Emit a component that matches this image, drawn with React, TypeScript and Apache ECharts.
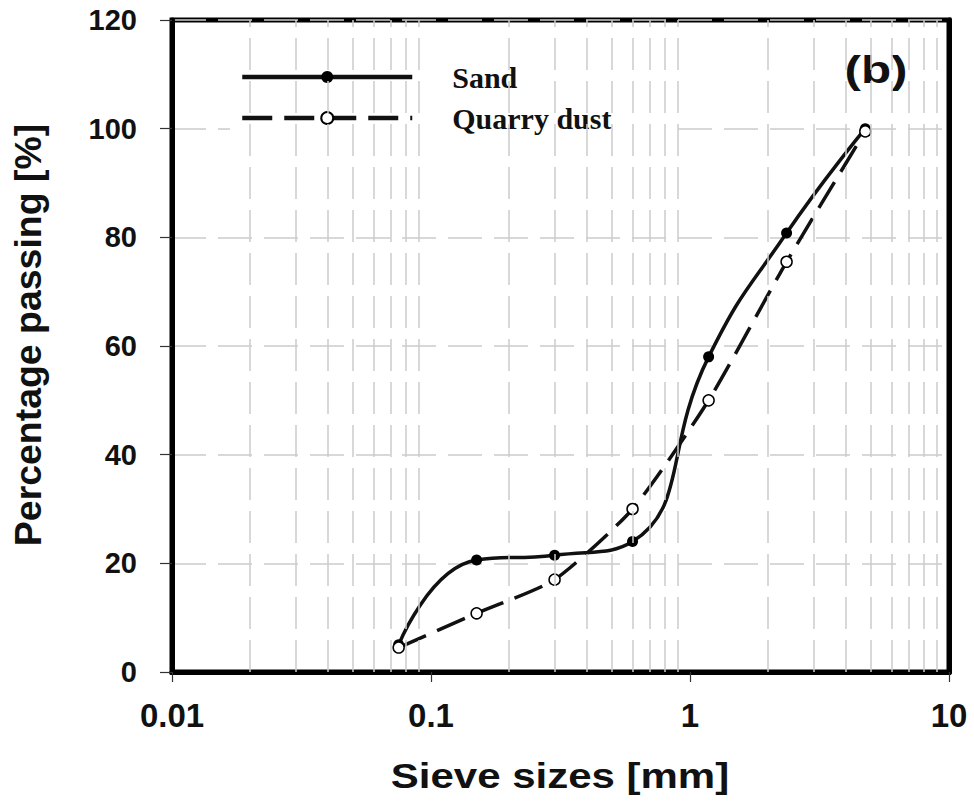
import React, { useEffect, useRef } from "react";
import * as echarts from "echarts";

const sieveSizes = [0.075, 0.15, 0.3, 0.6, 1.18, 2.36, 4.75];
const sandPassing = [5, 20.6, 21.5, 24, 58, 80.8, 100];
const dustPassing = [4.5, 10.8, 17, 30, 50, 75.5, 99.5];
const xTickLabels = ["0.01", "0.1", "1", "10"];
const minorGridX = [
  0.02, 0.03, 0.04, 0.05, 0.06, 0.07, 0.08, 0.09,
  0.2, 0.3, 0.4, 0.5, 0.6, 0.7, 0.8, 0.9,
  2, 3, 4, 5, 6, 7, 8, 9,
];

export default function App() {
  const ref = useRef<HTMLDivElement>(null);
  useEffect(() => {
    if (!ref.current) return;
    const chart = echarts.init(ref.current, undefined, { renderer: "svg" });
    const sans = '"Liberation Sans", Arial, sans-serif';
    const serif = '"Liberation Serif", "Times New Roman", serif';
    chart.setOption({
      animation: false,
      backgroundColor: "#fff",
      grid: {
        left: 172,
        right: 25,
        top: 20,
        bottom: 130,
        show: true,
        borderColor: "#000",
        borderWidth: 5,
        backgroundColor: "transparent",
      },
      xAxis: [
        {
          type: "log",
          logBase: 10,
          min: 0.01,
          max: 10,
          axisLine: { show: true, lineStyle: { color: "#000", width: 5 } },
          axisTick: { show: true, inside: false, length: 10, lineStyle: { color: "#333", width: 1.2 } },
          splitLine: { show: false },
          axisLabel: {
            margin: 27,
            fontFamily: sans,
            fontWeight: "bold",
            fontSize: 33,
            color: "#111",
            formatter: (_v: number, i: number) => xTickLabels[i] ?? "",
          },
        },
        {
          type: "log",
          logBase: 10,
          min: 0.01,
          max: 10,
          position: "top",
          axisLine: { show: true, lineStyle: { color: "#000", width: 5 } },
          axisTick: { show: false },
          axisLabel: { show: false },
          splitLine: { show: false },
        },
      ],
      yAxis: [
        {
          type: "value",
          min: 0,
          max: 120,
          interval: 20,
          axisLine: { show: true, lineStyle: { color: "#000", width: 5 } },
          axisTick: { show: true, inside: false, length: 12, lineStyle: { color: "#333", width: 1.2 } },
          splitLine: { show: true, lineStyle: { color: "#cccccc", width: 1.5, type: [34, 12] } },
          axisLabel: {
            margin: 35,
            fontFamily: sans,
            fontWeight: "bold",
            fontSize: 29,
            color: "#111",
          },
        },
        {
          type: "value",
          min: 0,
          max: 120,
          interval: 20,
          position: "right",
          axisLine: { show: true, lineStyle: { color: "#000", width: 5 } },
          axisTick: { show: false },
          axisLabel: { show: false },
          splitLine: { show: false },
        },
      ],
      legend: {
        data: ["Sand", "Quarry dust"],
        orient: "vertical",
        left: 230,
        top: 42,
        padding: [20, 60, 20, 10],
        backgroundColor: "#fff",
        itemWidth: 170,
        itemHeight: 15,
        itemGap: 11,
        lineStyle: { width: 4.5 },
        textStyle: {
          fontFamily: serif,
          fontWeight: "bold",
          fontSize: 30,
          lineHeight: 30,
          color: "#111",
          padding: [0, 0, 0, 35],
        },
      },
      graphic: [
        {
          type: "text",
          x: 560,
          y: 776,
          scaleX: 1.2,
          style: {
            text: "Sieve sizes [mm]",
            font: `bold 35px ${sans}`,
            fill: "#111",
            align: "center",
            verticalAlign: "middle",
          },
        },
        {
          type: "text",
          x: 29,
          y: 335,
          rotation: Math.PI / 2,
          scaleX: 1.04,
          style: {
            text: "Percentage passing [%]",
            font: `bold 36px ${sans}`,
            fill: "#111",
            align: "center",
            verticalAlign: "middle",
          },
        },
        {
          type: "text",
          x: 876,
          y: 70,
          scaleX: 1.3,
          style: {
            text: "(b)",
            font: `bold 38px ${sans}`,
            fill: "#111",
            align: "center",
            verticalAlign: "middle",
          },
        },
      ],
      series: [
        {
          name: "grid",
          type: "line",
          data: [],
          silent: true,
          z: 1,
          markLine: {
            silent: true,
            symbol: ["none", "none"],
            label: { show: false },
            lineStyle: { color: "#cccccc", width: 1.5, type: [32, 11] },
            emphasis: { disabled: true },
            data: minorGridX.map((v) => ({ xAxis: v })),
          },
        },
        {
          name: "Sand",
          type: "line",
          smooth: 0.5,
          symbol: "circle",
          symbolSize: 11,
          z: 3,
          itemStyle: { color: "#000" },
          lineStyle: { color: "#111", width: 3.5 },
          data: sieveSizes.map((s, i) => [s, sandPassing[i]]),
        },
        {
          name: "Quarry dust",
          type: "line",
          smooth: 0.2,
          symbol: "circle",
          symbolSize: 11,
          z: 4,
          itemStyle: { color: "#fff", borderColor: "#000", borderWidth: 1.5 },
          lineStyle: { color: "#111", width: 3.5, type: [30, 12] },
          data: sieveSizes.map((s, i) => [s, dustPassing[i]]),
        },
      ],
    });
    return () => chart.dispose();
  }, []);
  return (
    <div
      ref={ref}
      style={{ position: "absolute", left: 0, top: 0, width: 974, height: 802 }}
    />
  );
}
